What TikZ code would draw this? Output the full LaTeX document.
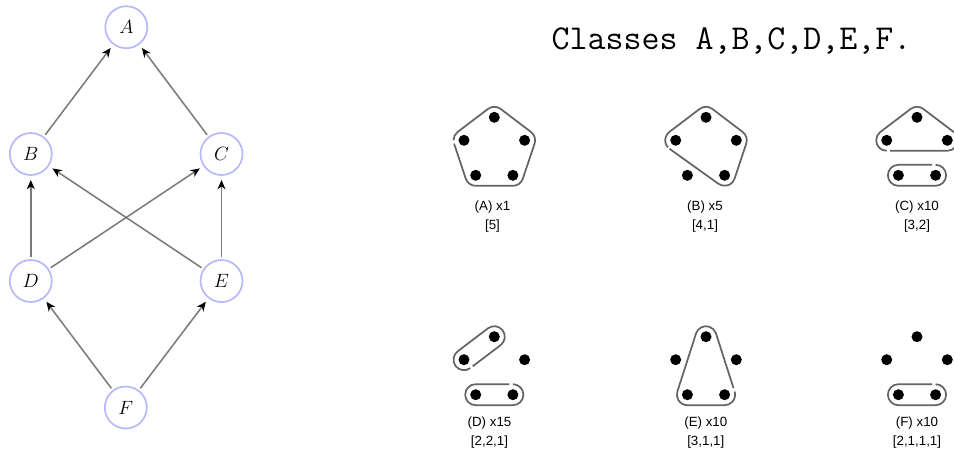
\documentclass[tikz,border=0pt]{standalone}
\usepackage{fontspec}
\newfontfamily\labf{Liberation Sans}
\usetikzlibrary{arrows.meta,calc}
\definecolor{nodeblue}{RGB}{185,185,250}
\definecolor{hullgray}{RGB}{100,100,100}
\def\dd{10.5}
\newcommand\arcat[3]{-- ($(#1)+(#2:\dd)$) arc[start angle=#2, end angle=#3, radius=\dd]}
\newcommand\fivedots[1]{%
  \node[dot] (#1-T) at (0,33) {};
  \node[dot] (#1-L) at (-30.3,10) {};
  \node[dot] (#1-R) at (30.3,10) {};
  \node[dot] (#1-BL) at (-18.6,-25) {};
  \node[dot] (#1-BR) at (18.6,-25) {};}
\begin{document}
\begin{tikzpicture}[x=0.75pt,y=0.75pt,
  gnode/.style={circle, draw=nodeblue, line width=1.3pt, minimum size=31.5pt, inner sep=0pt, outer sep=2.25pt, font=\fontsize{15}{18}\selectfont},
  garrow/.style={draw=black!52, line width=1.15pt, -{Stealth[color=black,length=7pt,width=6pt,inset=2.2pt]}, shorten >=1.5pt},
  dot/.style={circle, fill=black, inner sep=0pt, minimum size=8.25pt},
  hull/.style={draw=hullgray, line width=1.3pt},
  lab/.style={font=\labf\fontsize{10}{13.9}\selectfont, align=center}]
\useasboundingbox (0,0) rectangle (954,-462);
% lattice
\node[gnode] (A) at (126.3,-27.2) {$A$};
\node[gnode] (B) at (30.8,-154) {$B$};
\node[gnode] (C) at (221.5,-154) {$C$};
\node[gnode] (D) at (30.8,-281) {$D$};
\node[gnode] (E) at (221.5,-281) {$E$};
\node[gnode] (F) at (125.8,-407.5) {$F$};
\draw[garrow] (B) -- (A);
\draw[garrow] (C) -- (A);
\draw[garrow] (D) -- (B);
\draw[garrow] (E) -- (B);
\draw[garrow] (D) -- (C);
\draw[garrow] (E) -- (C);
\draw[garrow] (F) -- (D);
\draw[garrow] (F) -- (E);
% title
\node[font=\ttfamily\fontsize{26.2}{31}\selectfont, anchor=base] (title) at (731.5,-49.3) {Classes A,B,C,D,E,F.};
% panel A
\begin{scope}[shift={(494.3,-150.3)}]
  \fivedots{a}
  \draw[hull] ($(a-L.center)+(180:\dd)$) arc[start angle=180, end angle=127.2, radius=\dd]
    \arcat{a-T.center}{127.2}{52.8}
    \arcat{a-R.center}{52.8}{-18.5}
    \arcat{a-BR.center}{-18.5}{-90}
    \arcat{a-BL.center}{-90}{-161.5}
    -- ($(a-L.center)+(-161.5:\dd)$);
\end{scope}
% panel B
\begin{scope}[shift={(706,-150.3)}]
  \fivedots{b}
  \draw[hull] ($(b-L.center)+(222:\dd)$) arc[start angle=222, end angle=127.2, radius=\dd]
    \arcat{b-T.center}{127.2}{52.8}
    \arcat{b-R.center}{52.8}{-18.5}
    \arcat{b-BR.center}{-18.5}{-125.6}
    -- ($(b-L.center)+(234.4:\dd)$);
\end{scope}
% panel C
\begin{scope}[shift={(917,-150.3)}]
  \fivedots{c}
  \draw[hull] ($(c-L.center)+(270:\dd)$) arc[start angle=270, end angle=127.2, radius=\dd]
    \arcat{c-T.center}{127.2}{52.8}
    \arcat{c-R.center}{52.8}{-90}
    -- ($(c-L.center)+(3.5,-\dd)$);
  \draw[hull] ($(c-BR.center)+(90:\dd)$) arc[start angle=90, end angle=-90, radius=\dd]
    \arcat{c-BL.center}{270}{90}
    -- ($(c-BR.center)+(-3.5,\dd)$);
\end{scope}
% panel D
\begin{scope}[shift={(494.3,-369.7)}]
  \fivedots{d}
  \draw[hull] ($(d-L.center)+(307.2:\dd)$) arc[start angle=307.2, end angle=127.2, radius=\dd]
    \arcat{d-T.center}{127.2}{-52.8}
    -- ($(d-L.center)+(-52.8:\dd)+(2.4,1.8)$);
  \draw[hull] ($(d-BR.center)+(90:\dd)$) arc[start angle=90, end angle=-90, radius=\dd]
    \arcat{d-BL.center}{270}{90}
    -- ($(d-BR.center)+(-3.5,\dd)$);
\end{scope}
% panel E
\begin{scope}[shift={(706,-369.7)}]
  \fivedots{e}
  \draw[hull] ($(e-BR.center)+(17.8:\dd)$) arc[start angle=17.8, end angle=-90, radius=\dd]
    \arcat{e-BL.center}{270}{162.2}
    \arcat{e-T.center}{162.2}{17.8}
    -- ($(e-BR.center)+(17.8:\dd)+(-1.07,3.33)$);
\end{scope}
% panel F
\begin{scope}[shift={(917,-369.7)}]
  \fivedots{f}
  \draw[hull] ($(f-BR.center)+(90:\dd)$) arc[start angle=90, end angle=-90, radius=\dd]
    \arcat{f-BL.center}{270}{90}
    -- ($(f-BR.center)+(-3.5,\dd)$);
\end{scope}
% labels
\node[lab] (labA) at (492.5,-216.8) {(A) x1\\{}[5]};
\node[lab] (labB) at (705,-216.8) {(B) x5\\{}[4,1]};
\node[lab] (labC) at (917,-216.8) {(C) x10\\{}[3,2]};
\node[lab] (labD) at (489.5,-432.7) {(D) x15\\{}[2,2,1]};
\node[lab] (labE) at (705.8,-432.7) {(E) x10\\{}[3,1,1]};
\node[lab] (labF) at (917,-432.7) {(F) x10\\{}[2,1,1,1]};
\end{tikzpicture}
\end{document}
